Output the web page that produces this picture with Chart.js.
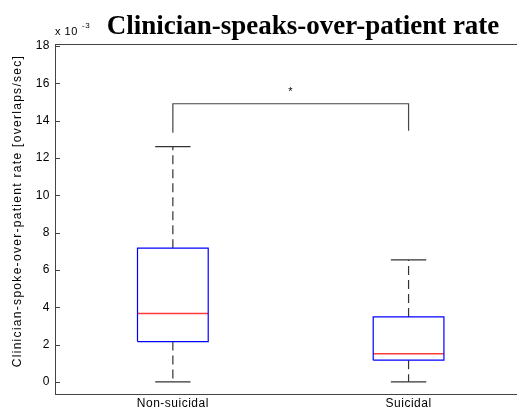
<!DOCTYPE html>
<html>
<head>
<meta charset="utf-8">
<script src="https://cdn.jsdelivr.net/npm/chart.js@4/dist/chart.umd.min.js"></script>
<style>
  body { margin: 0; background: #fff; }
  canvas { display: block; }
</style>
</head>
<body>
<canvas id="box-chart" width="517" height="412"></canvas>
<script>
// values (units of 1e-3 overlaps/sec)
const categories = ["Non-suicidal", "Suicidal"];
const whiskerLow = [0, 0];
const q1 = [2.16, 1.16];
const median = [3.66, 1.5];
const q3 = [7.16, 3.48];
const whiskerHigh = [12.6, 6.53];
const yTicks = [0, 2, 4, 6, 8, 10, 12, 14, 16, 18];
const bracketTop = 14.9;
const bracketEnds = [13.35, 13.45];
const sigLabel = "*";
const yTitle = "Clinician-spoke-over-patient rate [overlaps/sec]";

const axisColor = "#444";
const sansFont = "'Liberation Sans', Arial, sans-serif";
const boxHalf = 0.15;
const capHalf = 0.075;

const datasets = [];
categories.forEach((cat, i) => {
    const x = i + 1;
    // box
    datasets.push({
        data: [
            {x: x - boxHalf, y: q1[i]}, {x: x + boxHalf, y: q1[i]},
            {x: x + boxHalf, y: q3[i]}, {x: x - boxHalf, y: q3[i]},
            {x: x - boxHalf, y: q1[i]}
        ],
        borderColor: "#0000ff",
        borderWidth: 1.2
    });
    // median
    datasets.push({
        data: [{x: x - boxHalf, y: median[i]}, {x: x + boxHalf, y: median[i]}],
        borderColor: "#ff3b3b",
        borderWidth: 1.5
    });
    // whiskers (dashed)
    datasets.push({
        data: [{x: x, y: q3[i]}, {x: x, y: whiskerHigh[i]}],
        borderColor: "#333",
        borderWidth: 1.2,
        borderDash: [9, 5]
    });
    datasets.push({
        data: [{x: x, y: q1[i]}, {x: x, y: whiskerLow[i]}],
        borderColor: "#333",
        borderWidth: 1.2,
        borderDash: [9, 5]
    });
    // caps
    datasets.push({
        data: [{x: x - capHalf, y: whiskerHigh[i]}, {x: x + capHalf, y: whiskerHigh[i]}],
        borderColor: "#333",
        borderWidth: 1.2
    });
    datasets.push({
        data: [{x: x - capHalf, y: whiskerLow[i]}, {x: x + capHalf, y: whiskerLow[i]}],
        borderColor: "#333",
        borderWidth: 1.2
    });
});

// significance bracket
datasets.push({
    data: [
        {x: 1, y: bracketEnds[0]}, {x: 1, y: bracketTop},
        {x: 2, y: bracketTop}, {x: 2, y: bracketEnds[1]}
    ],
    borderColor: "#444",
    borderWidth: 1.2
});

datasets.forEach(ds => {
    ds.showLine = true;
    ds.pointRadius = 0;
    ds.fill = false;
    ds.tension = 0;
});

// frame, inward ticks and extra text
const decorations = {
    id: "decorations",
    beforeDraw(chart) {
        // MATLAB-like loose text spacing for tick labels
        chart.ctx.letterSpacing = "0.5px";
    },
    afterDraw(chart) {
        const ctx = chart.ctx;
        const area = chart.chartArea;
        const yScale = chart.scales.y;
        const xScale = chart.scales.x;
        ctx.save();
        ctx.strokeStyle = axisColor;
        ctx.lineWidth = 1;
        ctx.beginPath();
        ctx.moveTo(area.left, area.top + 0.5);
        ctx.lineTo(area.right, area.top + 0.5);
        yTicks.forEach(v => {
            const py = Math.round(yScale.getPixelForValue(v)) + 0.5;
            ctx.moveTo(area.left, py);
            ctx.lineTo(area.left + 5, py);
        });
        ctx.stroke();

        ctx.fillStyle = "#000";

        // y axis title
        ctx.save();
        ctx.letterSpacing = "1.3px";
        ctx.translate(18, (area.top + area.bottom) / 2 - 8);
        ctx.rotate(-Math.PI / 2);
        ctx.textAlign = "center";
        ctx.textBaseline = "middle";
        ctx.font = "12px " + sansFont;
        ctx.fillText(yTitle, 0, 0);
        ctx.restore();

        ctx.letterSpacing = "0px";

        // title
        ctx.textAlign = "center";
        ctx.textBaseline = "alphabetic";
        ctx.font = "bold 27px 'Liberation Serif', 'Times New Roman', serif";
        ctx.fillText("Clinician-speaks-over-patient rate", 303, 34);

        // exponent
        ctx.textAlign = "left";
        ctx.letterSpacing = "0.5px";
        ctx.font = "11px " + sansFont;
        ctx.fillText("x 10", 55, 35);
        ctx.font = "8px " + sansFont;
        ctx.fillText("-3", 82, 28);

        // star
        ctx.textAlign = "center";
        ctx.font = "11px " + sansFont;
        ctx.fillText(sigLabel, xScale.getPixelForValue(1.5), yScale.getPixelForValue(bracketTop) - 9);
        ctx.restore();
    }
};

new Chart(document.getElementById("box-chart"), {
    type: "scatter",
    data: { datasets: datasets },
    options: {
        responsive: false,
        animation: false,
        layout: { padding: { top: 44, right: 0, left: 0, bottom: 0 } },
        plugins: {
            legend: { display: false },
            tooltip: { enabled: false }
        },
        scales: {
            x: {
                type: "linear",
                min: 0.5,
                max: 2.46,
                afterBuildTicks: scale => {
                    scale.ticks = categories.map((c, i) => ({ value: i + 1 }));
                },
                afterFit: scale => { scale.height = 18; },
                ticks: {
                    callback: v => categories[v - 1],
                    color: "#000",
                    padding: 2,
                    font: { family: sansFont, size: 12 }
                },
                grid: { drawOnChartArea: false, drawTicks: false },
                border: { display: true, color: axisColor, width: 1 }
            },
            y: {
                type: "linear",
                min: -0.65,
                max: 18.1,
                afterBuildTicks: scale => {
                    scale.ticks = yTicks.map(v => ({ value: v }));
                },
                afterFit: scale => { scale.width = 55; },
                ticks: {
                    color: "#000",
                    padding: 5,
                    font: { family: sansFont, size: 12 }
                },
                grid: { drawOnChartArea: false, drawTicks: false },
                border: { display: true, color: axisColor, width: 1 }
            }
        }
    },
    plugins: [decorations]
});
</script>
</body>
</html>
